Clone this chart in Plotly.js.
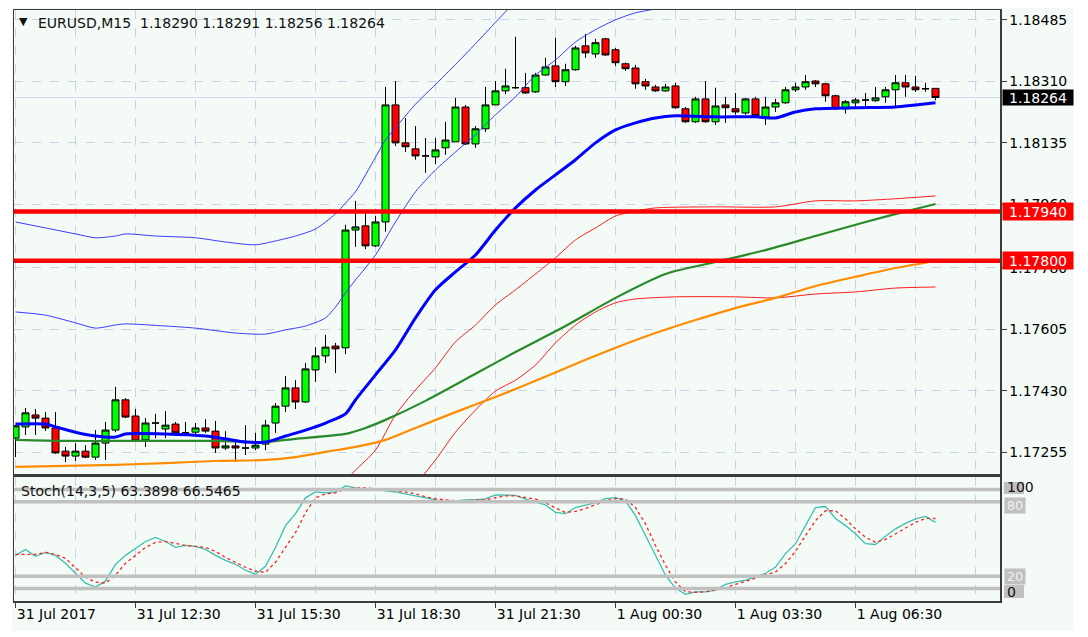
<!DOCTYPE html>
<html>
<head>
<meta charset="utf-8">
<script src="https://cdn.plot.ly/plotly-3.0.1.min.js"></script>
<style>
  html, body { margin: 0; padding: 0; background: #fff; }
  #chart { width: 1088px; height: 637px; }
</style>
</head>
<body>
<div id="chart"></div>
<script>
// EURUSD M15, bars 0..92 = 31 Jul 09:30 .. 1 Aug 08:30
const opens = [
  1.17295, 1.17327, 1.17361, 1.17352, 1.17324, 1.17258, 1.17244, 1.17258, 1.17241, 1.17281,
  1.17318, 1.17404, 1.17358, 1.17290, 1.17338, 1.17321, 1.17335, 1.17310, 1.17312, 1.17324,
  1.17315, 1.17267, 1.17273, 1.17267, 1.17267, 1.17278, 1.17338, 1.17386, 1.17438, 1.17398,
  1.17489, 1.17529, 1.17557, 1.17552, 1.17887, 1.17899, 1.17842, 1.17910, 1.18243, 1.18135,
  1.18118, 1.18098, 1.18095, 1.18121, 1.18138, 1.18237, 1.18132, 1.18175, 1.18243, 1.18283,
  1.18292, 1.18292, 1.18280, 1.18328, 1.18354, 1.18309, 1.18343, 1.18411, 1.18388, 1.18431,
  1.18400, 1.18360, 1.18348, 1.18309, 1.18294, 1.18283, 1.18297, 1.18232, 1.18195, 1.18260,
  1.18195, 1.18243, 1.18232, 1.18220, 1.18260, 1.18209, 1.18237, 1.18249, 1.18286, 1.18294,
  1.18311, 1.18303, 1.18269, 1.18232, 1.18249, 1.18257, 1.18255, 1.18266, 1.18286, 1.18306,
  1.18294, 1.18289, 1.18290
];
const highs = [
  1.17332, 1.17381, 1.17378, 1.17369, 1.17369, 1.17270, 1.17281, 1.17275, 1.17318, 1.17341,
  1.17441, 1.17409, 1.17378, 1.17352, 1.17364, 1.17372, 1.17341, 1.17341, 1.17338, 1.17349,
  1.17344, 1.17315, 1.17290, 1.17332, 1.17310, 1.17347, 1.17395, 1.17472, 1.17460, 1.17509,
  1.17554, 1.17589, 1.17566, 1.17902, 1.17970, 1.17939, 1.17927, 1.18294, 1.18311, 1.18206,
  1.18183, 1.18149, 1.18149, 1.18195, 1.18263, 1.18243, 1.18183, 1.18294, 1.18311, 1.18346,
  1.18437, 1.18334, 1.18334, 1.18377, 1.18434, 1.18360, 1.18411, 1.18445, 1.18431, 1.18434,
  1.18405, 1.18363, 1.18357, 1.18317, 1.18300, 1.18303, 1.18306, 1.18237, 1.18266, 1.18311,
  1.18292, 1.18266, 1.18277, 1.18263, 1.18266, 1.18266, 1.18260, 1.18294, 1.18306, 1.18328,
  1.18314, 1.18306, 1.18272, 1.18257, 1.18263, 1.18277, 1.18294, 1.18294, 1.18328, 1.18328,
  1.18326, 1.18306, 1.18291
];
const lows = [
  1.17241, 1.17304, 1.17304, 1.17315, 1.17250, 1.17227, 1.17230, 1.17238, 1.17233, 1.17233,
  1.17312, 1.17352, 1.17284, 1.17270, 1.17295, 1.17295, 1.17304, 1.17307, 1.17301, 1.17310,
  1.17253, 1.17261, 1.17227, 1.17247, 1.17261, 1.17261, 1.17310, 1.17369, 1.17378, 1.17395,
  1.17455, 1.17509, 1.17480, 1.17534, 1.17839, 1.17833, 1.17839, 1.17882, 1.18126, 1.18109,
  1.18087, 1.18050, 1.18074, 1.18101, 1.18138, 1.18129, 1.18121, 1.18166, 1.18243, 1.18274,
  1.18289, 1.18274, 1.18277, 1.18326, 1.18294, 1.18297, 1.18340, 1.18377, 1.18377, 1.18383,
  1.18354, 1.18340, 1.18289, 1.18286, 1.18280, 1.18280, 1.18232, 1.18192, 1.18192, 1.18192,
  1.18186, 1.18192, 1.18215, 1.18215, 1.18209, 1.18186, 1.18223, 1.18246, 1.18280, 1.18286,
  1.18294, 1.18252, 1.18229, 1.18218, 1.18235, 1.18235, 1.18252, 1.18249, 1.18237, 1.18266,
  1.18280, 1.18280, 1.18256
];
const closes = [
  1.17330, 1.17367, 1.17352, 1.17324, 1.17253, 1.17244, 1.17258, 1.17241, 1.17281, 1.17318,
  1.17404, 1.17355, 1.17287, 1.17338, 1.17338, 1.17332, 1.17310, 1.17310, 1.17324, 1.17315,
  1.17267, 1.17273, 1.17267, 1.17267, 1.17275, 1.17332, 1.17386, 1.17438, 1.17398, 1.17492,
  1.17529, 1.17554, 1.17549, 1.17887, 1.17896, 1.17842, 1.17910, 1.18243, 1.18135, 1.18124,
  1.18098, 1.18098, 1.18115, 1.18143, 1.18237, 1.18132, 1.18175, 1.18243, 1.18283, 1.18297,
  1.18292, 1.18277, 1.18328, 1.18351, 1.18309, 1.18343, 1.18405, 1.18391, 1.18420, 1.18385,
  1.18363, 1.18346, 1.18303, 1.18297, 1.18283, 1.18294, 1.18235, 1.18195, 1.18260, 1.18195,
  1.18240, 1.18235, 1.18223, 1.18260, 1.18212, 1.18237, 1.18249, 1.18286, 1.18294, 1.18309,
  1.18303, 1.18269, 1.18232, 1.18252, 1.18257, 1.18257, 1.18263, 1.18286, 1.18306, 1.18294,
  1.18286, 1.18289, 1.18264
];

const maFastIdx = [0, 3, 4, 6, 8, 10, 11, 15, 19, 21, 23, 25, 27, 29, 31, 33, 34, 36, 38, 40, 42,
  44, 46, 48, 50, 52, 54, 56, 58, 60, 62, 64, 66, 70, 74, 76, 78, 80, 84, 88, 90, 92];
const maFast = [1.17335, 1.17335, 1.17327, 1.17312, 1.17301, 1.17298, 1.17307, 1.17307, 1.17301,
  1.17293, 1.17284, 1.17284, 1.17301, 1.17318, 1.17338, 1.17364, 1.17404, 1.17475, 1.17546,
  1.17637, 1.17717, 1.17768, 1.17816, 1.17887, 1.17950, 1.18001, 1.18044, 1.18087, 1.18135,
  1.18172, 1.18192, 1.18206, 1.18212, 1.18209, 1.18209, 1.18206, 1.18223, 1.18232, 1.18235,
  1.18237, 1.18243, 1.18249];

const maMidIdx = [0, 5, 10, 15, 20, 25, 28, 33, 35, 37, 41, 46, 50, 55, 60, 65, 70, 75, 80, 85, 90, 92];
const maMid = [1.17290, 1.17287, 1.17287, 1.17287, 1.17287, 1.17284, 1.17293, 1.17307, 1.17324,
  1.17347, 1.17401, 1.17478, 1.17540, 1.17614, 1.17694, 1.17762, 1.17796, 1.17830, 1.17870,
  1.17910, 1.17947, 1.17961];

const maSlowIdx = [0, 5, 10, 15, 20, 25, 28, 31, 34, 37, 40, 44, 48, 52, 56, 60, 64, 68, 72, 76, 80, 84, 88, 92];
const maSlow = [1.17213, 1.17216, 1.17219, 1.17224, 1.17230, 1.17233, 1.17241, 1.17256, 1.17270,
  1.17290, 1.17324, 1.17369, 1.17412, 1.17458, 1.17506, 1.17552, 1.17594, 1.17631, 1.17665,
  1.17694, 1.17728, 1.17754, 1.17779, 1.17799];

const redUpIdx = [33, 34, 36, 38, 40, 42, 44, 46, 48, 50, 52, 54, 56, 58, 60, 62, 64, 70, 76, 80, 84, 88, 92];
const redUp = [1.17176, 1.17204, 1.17261, 1.17361, 1.17432, 1.17495, 1.17569, 1.17617, 1.17674,
  1.17717, 1.17762, 1.17808, 1.17859, 1.17893, 1.17927, 1.17941, 1.17950, 1.17953, 1.17953,
  1.17970, 1.17970, 1.17976, 1.17984];

const redLowIdx = [40, 42, 44, 46, 48, 50, 52, 54, 56, 58, 60, 62, 66, 72, 76, 80, 84, 88, 92];
const redLow = [1.17162, 1.17233, 1.17312, 1.17375, 1.17429, 1.17460, 1.17503, 1.17566, 1.17617,
  1.17654, 1.17680, 1.17691, 1.17697, 1.17697, 1.17694, 1.17705, 1.17711, 1.17722, 1.17725];

const blueUpIdx = [0, 3, 6, 8, 10, 11, 14, 18, 21, 24, 26, 28, 30, 32, 33, 34, 36, 37, 38, 40, 42,
  44, 46, 48, 49, 50];
const blueUp = [1.17910, 1.17893, 1.17876, 1.17865, 1.17870, 1.17876, 1.17870, 1.17865, 1.17853,
  1.17845, 1.17856, 1.17870, 1.17890, 1.17933, 1.17964, 1.17996, 1.18094, 1.18143, 1.18178,
  1.18245, 1.18301, 1.18358, 1.18417, 1.18478, 1.18508, 1.18539];

const blueLowIdx = [0, 3, 6, 8, 10, 11, 15, 18, 22, 25, 27, 29, 31, 32, 33, 34, 36, 38, 40, 42,
  44, 46, 48, 50, 52, 54, 56, 58, 60, 62, 64, 66];
const blueLow = [1.17654, 1.17645, 1.17623, 1.17608, 1.17617, 1.17620, 1.17614, 1.17608, 1.17594,
  1.17591, 1.17603, 1.17614, 1.17637, 1.17668, 1.17708, 1.17745, 1.17816, 1.17910, 1.17996,
  1.18058, 1.18109, 1.18158, 1.18215, 1.18266, 1.18328, 1.18371, 1.18422, 1.18457, 1.18485,
  1.18505, 1.18516, 1.18528];

// Stoch(14,3,5)
const stochK = [36.8, 41.6, 36.0, 39.2, 36.8, 30.4, 22.4, 14.4, 11.2, 16.0,
  29.6, 36.8, 42.4, 48.0, 51.2, 48.0, 43.2, 44.8, 44.0, 41.6,
  36.8, 32.8, 29.6, 24.8, 21.6, 28.0, 43.2, 60.8, 70.4, 83.2,
  88.0, 87.2, 88.0, 92.8, 91.2, 90.4, 90.4, 88.8, 88.0, 86.4,
  84.8, 83.2, 81.6, 80.0, 80.8, 81.6, 81.6, 82.4, 85.6, 85.6,
  85.2, 82.2, 80.0, 77.6, 71.4, 70.4, 75.4, 77.6, 79.4, 82.6,
  83.4, 80.8, 68.8, 52.8, 36.8, 20.8, 10.2, 5.4, 7.4, 7.4,
  8.8, 13.4, 15.4, 16.8, 19.4, 22.2, 27.4, 38.2, 46.2, 60.8,
  75.4, 76.2, 66.6, 60.8, 54.2, 46.2, 45.6, 52.2, 58.2, 62.6,
  66.2, 68.2, 63.3898];
const stochD = [37.6, 37.6, 37.6, 39.2, 37.6, 34.4, 27.2, 19.2, 15.2, 14.4,
  20.8, 30.4, 36.8, 43.2, 47.2, 48.0, 46.4, 44.8, 44.0, 43.2,
  40.0, 35.2, 31.2, 27.2, 24.0, 23.2, 31.2, 43.2, 55.2, 71.2,
  83.2, 86.4, 87.2, 90.4, 91.2, 91.2, 90.4, 89.6, 88.8, 88.0,
  86.4, 84.0, 82.4, 81.6, 80.8, 80.8, 81.6, 81.6, 83.2, 84.8,
  84.8, 83.4, 82.2, 79.4, 75.0, 71.4, 72.2, 74.6, 77.4, 80.8,
  82.6, 82.2, 75.4, 62.2, 44.8, 28.8, 15.4, 7.4, 7.0, 7.4,
  8.8, 10.6, 13.4, 16.0, 18.2, 20.8, 23.4, 30.2, 40.0, 52.8,
  64.8, 72.8, 72.8, 66.2, 58.2, 51.4, 47.4, 49.6, 54.2, 58.6,
  63.4, 66.6, 66.5465];

const priceTicks = [1.18485, 1.18310, 1.18135, 1.17960, 1.17780, 1.17605, 1.17430, 1.17255];
const timeTickIdx = [0, 12, 24, 36, 48, 60, 72, 84];
const timeTickText = ['31 Jul 2017', '31 Jul 12:30', '31 Jul 15:30', '31 Jul 18:30',
  '31 Jul 21:30', '1 Aug 00:30', '1 Aug 03:30', '1 Aug 06:30'];
const hLines = [1.17940, 1.17800];
const bidPrice = 1.18264;
const stochLevels = [90, 80, 20, 10];

const MINT = '#f4fbf7';
const GRID = '#c9d2e6';
const FRAME = '#3c3c3c';
const FONT = 'DejaVu Sans, Verdana, sans-serif';

// pixel -> paper helpers for text placement (plot area 14..1000 x 10..601)
const px = v => (v - 14) / 986;
const py = v => (601 - v) / 591;

const bars = opens.map((_, i) => i);
const gridIdx = [];
for (let i = 0; i <= 96; i += 6) gridIdx.push(i);

const line = (x, y, color, width, extra) => Object.assign({
  type: 'scatter', mode: 'lines', x, y, xaxis: 'x', yaxis: 'y',
  line: { color, width, shape: 'spline', smoothing: 0.7 }, hoverinfo: 'skip', showlegend: false
}, extra || {});

const data = [
  line(blueUpIdx, blueUp, '#3a3aff', 1),
  line(blueLowIdx, blueLow, '#3a3aff', 1),
  line(redUpIdx, redUp, '#ff1a1a', 1),
  line(redLowIdx, redLow, '#ff1a1a', 1),
  line(maSlowIdx, maSlow, '#ff8c00', 2.2),
  line(maMidIdx, maMid, '#2a8a2a', 2.2),
  line(maFastIdx, maFast, '#0000ff', 3),
  {
    type: 'candlestick', x: bars, open: opens, high: highs, low: lows, close: closes,
    xaxis: 'x', yaxis: 'y', whiskerwidth: 0, hoverinfo: 'skip', showlegend: false,
    increasing: { fillcolor: '#00ff00', line: { color: '#000', width: 1 } },
    decreasing: { fillcolor: '#ff0000', line: { color: '#000', width: 1 } }
  },
  line(bars, stochK, '#3cbfb0', 1.3, { xaxis: 'x2', yaxis: 'y2', line: { color: '#3cbfb0', width: 1.3 } }),
  line(bars, stochD, '#ff2020', 1.3, { xaxis: 'x2', yaxis: 'y2', line: { color: '#ff2020', width: 1.3, dash: 'dot' } })
];

const shapes = [
  { type: 'rect', xref: 'paper', yref: 'paper', x0: px(12), x1: px(1074), y0: py(631), y1: py(8),
    fillcolor: MINT, line: { width: 0 }, layer: 'below' },
  { type: 'line', xref: 'paper', yref: 'y', x0: 0, x1: 1, y0: bidPrice, y1: bidPrice,
    line: { color: '#d6d6f2', width: 1 }, layer: 'below' },
  // grey label boxes behind the 100 / 0 scale marks
  { type: 'rect', xref: 'paper', yref: 'paper', x0: px(1004), x1: px(1024), y0: py(494), y1: py(482),
    fillcolor: '#c0c0c0', line: { width: 0 }, layer: 'above' },
  { type: 'rect', xref: 'paper', yref: 'paper', x0: px(1004), x1: px(1024), y0: py(598), y1: py(585),
    fillcolor: '#c0c0c0', line: { width: 0 }, layer: 'above' }
];
hLines.forEach(v => shapes.push({
  type: 'line', xref: 'paper', yref: 'y', x0: 0, x1: 1, y0: v, y1: v,
  line: { color: '#ff0000', width: 4.5 }, layer: 'above'
}));
stochLevels.forEach(v => shapes.push({
  type: 'line', xref: 'paper', yref: 'y2', x0: 0, x1: 1, y0: v, y1: v,
  line: { color: '#c0c0c0', width: 3.5 }, layer: 'above'
}));

const txt = (text, x, y, extra) => Object.assign({
  text, xref: 'paper', yref: 'paper', x, y, xanchor: 'left', yanchor: 'middle',
  showarrow: false, borderpad: 0, font: { family: FONT, size: 14, color: '#111' }
}, extra || {});

const annotations = [
  txt('▼', px(18), py(22), { font: { family: FONT, size: 11, color: '#111' } }),
  txt('EURUSD,M15\u00a0\u00a0' + opens[92].toFixed(5) + ' ' + highs[92].toFixed(5) + ' ' +
      lows[92].toFixed(5) + ' ' + closes[92].toFixed(5), px(37), py(23)),
  txt('Stoch(14,3,5) ' + stochK[92].toFixed(4) + ' ' + stochD[92].toFixed(4), px(20), py(491)),
  txt(bidPrice.toFixed(5), px(1002), bidPrice, { yref: 'y', bgcolor: '#000', width: 70, height: 15,
      align: 'center', font: { family: FONT, size: 14, color: '#fff' } })
];
hLines.forEach(v => annotations.push(txt(v.toFixed(5), px(1002), v, {
  yref: 'y', bgcolor: '#ff0000', width: 70, height: 17, align: 'center',
  font: { family: FONT, size: 14, color: '#fff' }
})));
// level labels on the stochastic scale
annotations.push(txt('80', px(1004), 80, { yref: 'y2', bgcolor: '#c0c0c0', width: 20, height: 15, yshift: -4, font: { family: FONT, size: 13, color: '#f0f0f0' } }));
annotations.push(txt('20', px(1004), 20, { yref: 'y2', bgcolor: '#c0c0c0', width: 20, height: 15, font: { family: FONT, size: 13, color: '#f0f0f0' } }));
annotations.push(txt('100', px(1006), py(487)));
annotations.push(txt('0', px(1006), py(592)));

const layout = {
  width: 1088, height: 637,
  margin: { l: 14, r: 88, t: 10, b: 36 },
  paper_bgcolor: '#ffffff', plot_bgcolor: MINT,
  font: { family: FONT, size: 14, color: '#111' },
  showlegend: false, hovermode: false,
  boxgap: 0.3, boxgroupgap: 0,
  xaxis: {
    domain: [0, 1], anchor: 'y', range: [-0.15, 98.45],
    tickmode: 'array', tickvals: gridIdx, showticklabels: false, ticks: '',
    showgrid: true, gridcolor: GRID, griddash: 'dash', gridwidth: 1,
    showline: true, mirror: true, linecolor: FRAME, linewidth: 1.5,
    zeroline: false, rangeslider: { visible: false }
  },
  yaxis: {
    domain: [py(474), 1], anchor: 'x', side: 'right', range: [1.17193, 1.18513],
    tickmode: 'array', tickvals: priceTicks, ticktext: priceTicks.map(v => v.toFixed(5)),
    ticks: 'outside', ticklen: 5, tickcolor: FRAME,
    tickfont: { family: FONT, size: 14, color: '#000' },
    showgrid: true, gridcolor: GRID, griddash: 'dash', gridwidth: 1,
    showline: true, mirror: true, linecolor: FRAME, linewidth: 1.5, zeroline: false
  },
  xaxis2: {
    domain: [0, 1], anchor: 'y2', range: [-0.15, 98.45],
    tickmode: 'array', tickvals: timeTickIdx, ticktext: timeTickText,
    ticklabelposition: 'outside right',
    ticks: 'outside', ticklen: 5, tickcolor: FRAME,
    tickfont: { family: FONT, size: 14, color: '#000' },
    showgrid: true, gridcolor: GRID, griddash: 'dash', gridwidth: 1,
    minor: { tickmode: 'array', tickvals: gridIdx, showgrid: true, gridcolor: GRID, griddash: 'dash', ticks: '' },
    showline: true, mirror: true, linecolor: FRAME, linewidth: 1.5, zeroline: false
  },
  yaxis2: {
    domain: [0, py(477)], anchor: 'x2', range: [0, 100],
    showticklabels: false, ticks: '', showgrid: false, zeroline: false,
    showline: true, mirror: true, linecolor: FRAME, linewidth: 1.5
  },
  shapes, annotations
};

Plotly.newPlot('chart', data, layout, { displayModeBar: false, staticPlot: true });
</script>
</body>
</html>
